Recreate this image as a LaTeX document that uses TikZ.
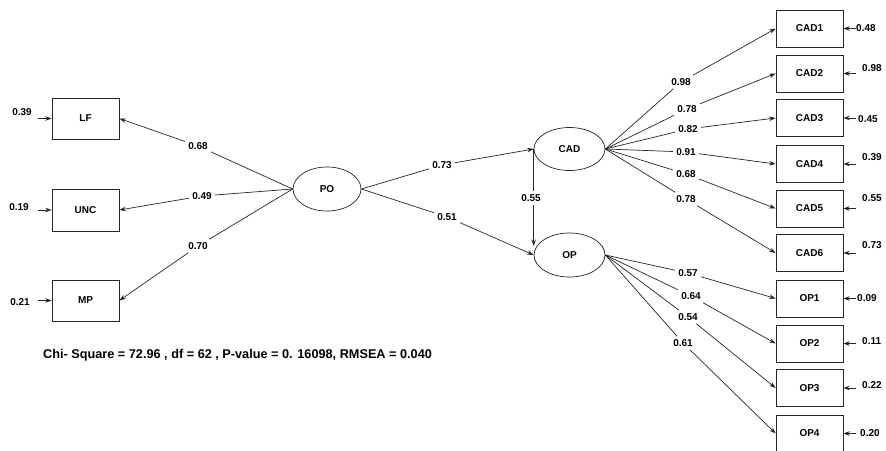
\documentclass[tikz,border=0pt]{standalone}
\usepackage{fontspec}
\setmainfont{Liberation Sans}
\usetikzlibrary{positioning,arrows.meta,shapes.geometric}
\tikzset{
  obs/.style={rectangle,draw=black!85,line width=0.7pt,minimum width=67pt,minimum height=37pt,inner sep=0pt,font=\fontsize{10}{12}\selectfont\bfseries},
  latent/.style={ellipse,draw=black!85,line width=0.7pt,minimum width=71pt,minimum height=43pt,inner sep=0pt,font=\fontsize{10}{12}\selectfont\bfseries},
  coef/.style={inner sep=3pt,font=\fontsize{10}{12}\selectfont\bfseries},
  link/.style={draw=black!85,line width=0.7pt},
  edge/.style={link,-{Stealth[length=6.5pt,width=4.5pt]}}
}
\begin{document}
\begin{tikzpicture}[x=1pt,y=-1pt]
  \useasboundingbox (0,0) rectangle (886,450);
  % exogenous indicators
  \node[obs,minimum height=41pt] (LF) at (85.5,118.5) {LF};
  \node[obs,minimum height=42pt] (UNC) at (85.5,210) {UNC};
  \node[obs,minimum height=41pt] (MP) at (85.5,300.5) {MP};
  \foreach \name/\lx/\ly/\val in {LF/22/112/0.39,UNC/19/207/0.19,MP/20/302/0.21}{
    \node[coef] (v\name) at (\lx,\ly) {\val};
    \coordinate (e\name) at ([xshift=-14pt]\name.west);
    \draw[edge] (e\name) -- (\name.west);
  }
  % latent variables
  \node[latent,minimum width=68pt,minimum height=44pt] (PO) at (327,189) {PO};
  \node[latent] (CAD) at (569.5,149) {CAD};
  \node[latent,minimum height=44pt] (OP) at (569.5,255) {OP};
  % loadings of PO
  \foreach \tgt/\lx/\ly/\val in {LF/198/146/0.68,UNC/202/196/0.49,MP/198/246/0.70}{
    \node[coef] (c\tgt) at (\lx,\ly) {\val};
    \draw[link] (PO.west) -- (c\tgt);
    \draw[edge] (c\tgt) -- (\tgt.east);
  }
  % structural paths
  \node[coef] (cPOCAD) at (442,165) {0.73};
  \node[coef] (cPOOP) at (447,217) {0.51};
  \node[coef] (cCADOP) at (531,198) {0.55};
  \draw[link] (PO.east) -- (cPOCAD);
  \draw[edge] (cPOCAD) -- (CAD.west);
  \draw[link] (PO.east) -- (cPOOP);
  \draw[edge] (cPOOP) -- (OP.west);
  \draw[link] (CAD.west) -- (CAD.west |- cCADOP.north);
  \draw[edge] (CAD.west |- cCADOP.south) -- ([yshift=9pt]OP.west);
  % endogenous indicators
  \foreach \name/\y in {CAD1/28.5,CAD2/73.5,CAD3/118,CAD4/164,CAD5/208.5,CAD6/253,OP1/298.5,OP2/343.5,OP3/388,OP4/433.5}
    \node[obs] (\name) at (809.5,\y) {\name};
  \foreach \name/\lx/\ly/\val in {CAD1/853/28.5/0.48,CAD2/859/68/0.98,CAD3/855/119/0.45,CAD4/859/157/0.39,CAD5/859/198/0.55,CAD6/859/245/0.73,OP1/854/298.5/0.09,OP2/859/341/0.11,OP3/859/385/0.22,OP4/857/433.5/0.20}{
    \node[coef,anchor=west] (v\name) at (\lx,\ly) {\val};
    \coordinate (e\name) at ([xshift=13pt]\name.east);
    \draw[edge] (e\name) -- (\name.east);
  }
  % loadings of CAD and OP
  \foreach \tgt/\lx/\ly/\val in {CAD1/681/82/0.98,CAD2/687/109/0.78,CAD3/688/129/0.82,CAD4/686/152/0.91,CAD5/686/174/0.68,CAD6/686/199/0.78}{
    \node[coef] (c\tgt) at (\lx,\ly) {\val};
    \draw[link] (CAD.east) -- (c\tgt);
    \draw[edge] (c\tgt) -- (\tgt.west);
  }
  \foreach \tgt/\lx/\ly/\val in {OP1/688/273/0.57,OP2/691/296/0.64,OP3/688/317/0.54,OP4/683/343/0.61}{
    \node[coef] (c\tgt) at (\lx,\ly) {\val};
    \draw[link] (OP.east) -- (c\tgt);
    \draw[edge] (c\tgt) -- (\tgt.west);
  }
  % fit indices
  \node[anchor=west,inner sep=0pt,font=\fontsize{12.7}{14}\selectfont\bfseries] (fit) at (43,355) {Chi- Square = 72.96 , df = 62 , P-value = 0. 16098, RMSEA = 0.040};
\end{tikzpicture}
\end{document}
